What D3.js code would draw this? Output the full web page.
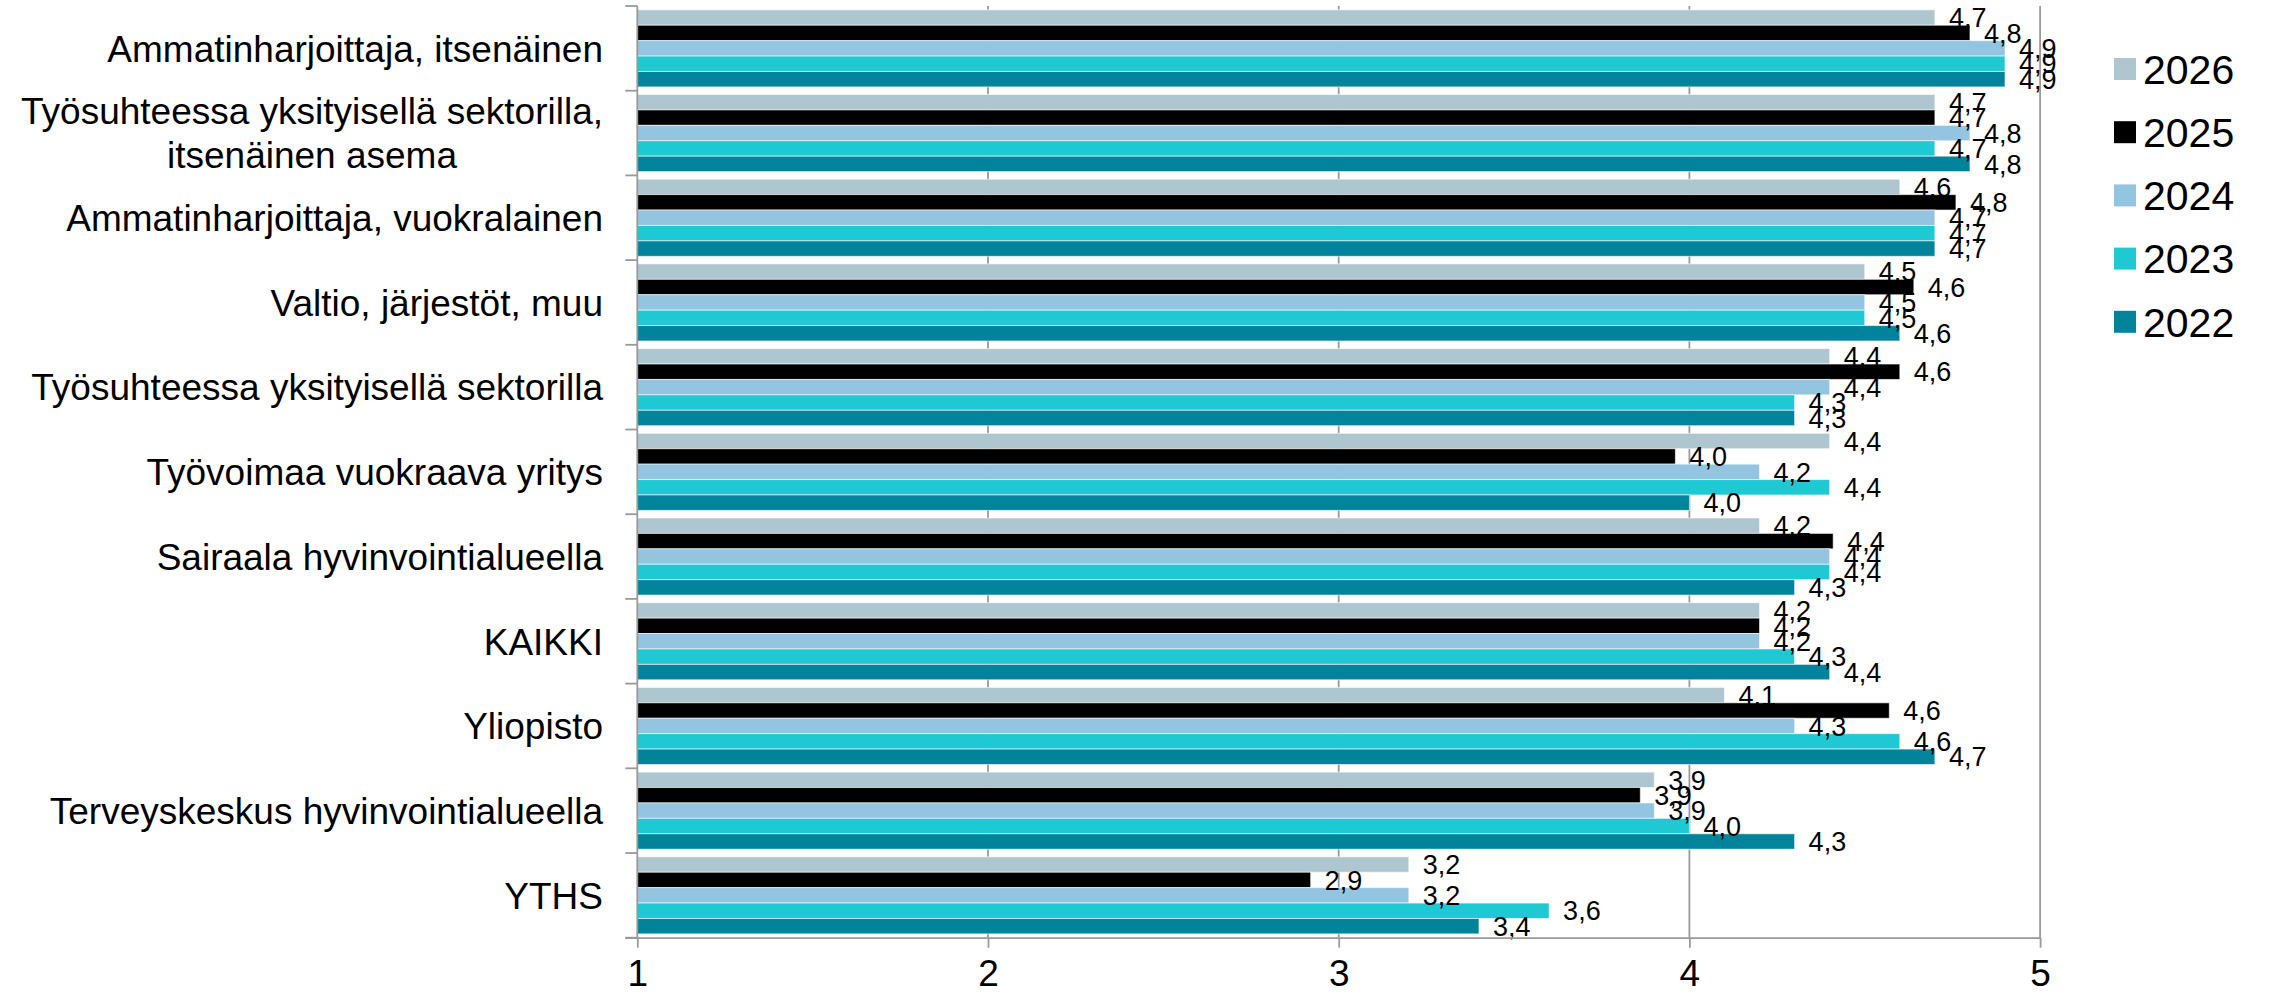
<!DOCTYPE html>
<html>
<head>
<meta charset="utf-8">
<script src="https://cdn.jsdelivr.net/npm/d3@7"></script>
<style>
  html, body { margin: 0; padding: 0; background: #ffffff; }
  svg { display: block; }
  text { font-family: "Liberation Sans", Arial, sans-serif; fill: #000; }
</style>
</head>
<body>
<svg id="chart" width="2269" height="1000"></svg>
<script>
const categories = [
  "Ammatinharjoittaja, itsenäinen",
  "Työsuhteessa yksityisellä sektorilla,\nitsenäinen asema",
  "Ammatinharjoittaja, vuokralainen",
  "Valtio, järjestöt, muu",
  "Työsuhteessa yksityisellä sektorilla",
  "Työvoimaa vuokraava yritys",
  "Sairaala hyvinvointialueella",
  "KAIKKI",
  "Yliopisto",
  "Terveyskeskus hyvinvointialueella",
  "YTHS"
];
const years = ["2026", "2025", "2024", "2023", "2022"];
const v2026 = [4.70, 4.70, 4.60, 4.50, 4.40, 4.40, 4.20, 4.20, 4.10, 3.90, 3.20];
const v2025 = [4.80, 4.70, 4.76, 4.64, 4.60, 3.96, 4.41, 4.20, 4.57, 3.86, 2.92];
const v2024 = [4.90, 4.80, 4.70, 4.50, 4.40, 4.20, 4.40, 4.20, 4.30, 3.90, 3.20];
const v2023 = [4.90, 4.70, 4.70, 4.50, 4.30, 4.40, 4.40, 4.30, 4.60, 4.00, 3.60];
const v2022 = [4.90, 4.80, 4.70, 4.60, 4.30, 4.00, 4.30, 4.40, 4.70, 4.30, 3.40];
const seriesValues = [v2026, v2025, v2024, v2023, v2022];
const colors = ["#aec6cf", "#000000", "#93c5e1", "#1fc9d3", "#00839b"];
const xTicks = [1, 2, 3, 4, 5];

const svg = d3.select("#chart");
const plot = { left: 637.3, right: 2040.1, top: 6, bottom: 937.7 };
const axisColor = "#9a9a9a";

const x = d3.scaleLinear().domain([1, 5]).range([plot.left, plot.right]);
const y = d3.scaleBand().domain(categories).range([plot.top, plot.bottom])
  .paddingInner(0.09).paddingOuter(0.045);
const yInner = d3.scaleBand().domain(years).range([0, y.bandwidth()]).padding(0);

const fmt = v => d3.format(".1f")(v).replace(".", ",");

// gridlines (behind bars)
svg.append("g").selectAll("line").data(xTicks.slice(1)).join("line")
  .attr("x1", d => x(d)).attr("x2", d => x(d))
  .attr("y1", plot.top).attr("y2", plot.bottom)
  .attr("stroke", axisColor).attr("stroke-width", 1.8);

// bars
const groups = svg.append("g").selectAll("g").data(categories).join("g")
  .attr("transform", d => `translate(0,${y(d)})`);
groups.each(function(cat, ci) {
  const g = d3.select(this);
  years.forEach((yr, si) => {
    const v = seriesValues[si][ci];
    g.append("rect")
      .attr("x", x(1))
      .attr("y", yInner(yr))
      .attr("width", x(v) - x(1))
      .attr("height", yInner.bandwidth())
      .attr("fill", colors[si])
      .attr("stroke", "#ffffff").attr("stroke-opacity", 0.6).attr("stroke-width", 1);
  });
});

// data labels
groups.each(function(cat, ci) {
  const g = d3.select(this);
  years.forEach((yr, si) => {
    const v = seriesValues[si][ci];
    g.append("text")
      .attr("x", x(v) + 14)
      .attr("y", yInner(yr) + yInner.bandwidth() / 2)
      .attr("dy", "0.36em")
      .attr("font-size", 27)
      .text(fmt(v));
  });
});

// x axis
const xAxis = d3.axisBottom(x).tickValues(xTicks).tickSize(10).tickPadding(12).tickFormat(d3.format("d"));
const gx = svg.append("g").attr("transform", `translate(0,${plot.bottom})`).call(xAxis);
gx.select(".domain").attr("stroke", axisColor).attr("stroke-width", 1.8)
  .attr("d", `M${plot.left - 12},0.5H${plot.right}`);
gx.selectAll(".tick line").attr("stroke", axisColor).attr("stroke-width", 1.8);
gx.selectAll(".tick text").attr("font-size", 37).attr("fill", "#000")
  .attr("font-family", '"Liberation Sans", Arial, sans-serif');

// y axis line and boundary ticks
svg.append("line").attr("x1", plot.left).attr("x2", plot.left)
  .attr("y1", plot.top).attr("y2", plot.bottom)
  .attr("stroke", axisColor).attr("stroke-width", 1.8);
const step = y.step();
svg.append("g").selectAll("line").data(d3.range(categories.length + 1)).join("line")
  .attr("x1", plot.left - 12).attr("x2", plot.left)
  .attr("y1", i => plot.top + i * step).attr("y2", i => plot.top + i * step)
  .attr("stroke", axisColor).attr("stroke-width", 1.8);

// category labels
const labelX = 603;
const catFont = 37;
categories.forEach(cat => {
  const lines = cat.split("\n");
  const cy = y(cat) + y.bandwidth() / 2;
  const lh = 44;
  const t = svg.append("text").attr("font-size", catFont);
  if (lines.length === 1) {
    t.attr("x", labelX).attr("y", cy).attr("dy", "0.36em")
      .attr("text-anchor", "end").text(lines[0]);
  } else {
    const first = t.attr("x", labelX).attr("y", cy - lh / 2).attr("dy", "0.36em")
      .attr("text-anchor", "end").text(lines[0]);
    const w = first.node().getComputedTextLength();
    for (let i = 1; i < lines.length; i++) {
      svg.append("text").attr("font-size", catFont)
        .attr("x", labelX - w / 2).attr("y", cy - lh / 2 + i * lh).attr("dy", "0.36em")
        .attr("text-anchor", "middle").text(lines[i]);
    }
  }
});

// legend
const legend = svg.append("g");
const legendY0 = 69, legendStep = 63.2;
years.forEach((yr, i) => {
  const ly = legendY0 + i * legendStep;
  legend.append("rect").attr("x", 2114).attr("y", ly - 11).attr("width", 22).attr("height", 22)
    .attr("fill", colors[i]);
  legend.append("text").attr("x", 2143).attr("y", ly).attr("dy", "0.36em")
    .attr("font-size", 41).text(yr);
});
</script>
</body>
</html>
